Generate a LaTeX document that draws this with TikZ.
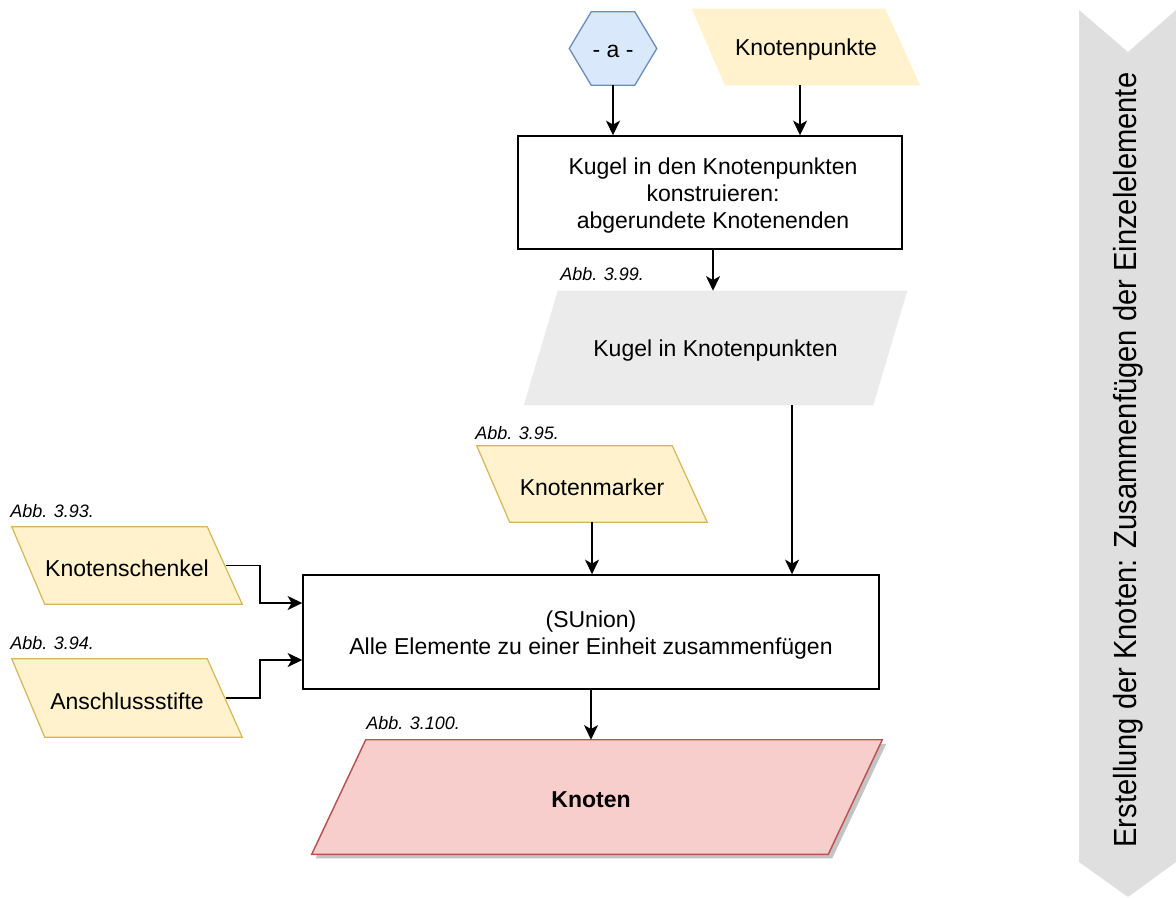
\documentclass[tikz,border=0pt]{standalone}
\usepackage{fontspec}
\setmainfont{Liberation Sans}
\newfontfamily\chevfont[FakeStretch=0.91]{Liberation Sans}
\usetikzlibrary{calc,arrows.meta}

\definecolor{hexfill}{HTML}{DAE8FC}
\definecolor{hexdraw}{HTML}{6C8EBF}
\definecolor{yelfill}{HTML}{FFF2CC}
\definecolor{yeldraw}{HTML}{D6B656}
\definecolor{grayfill}{HTML}{EBEBEB}
\definecolor{redfill}{HTML}{F8CECC}
\definecolor{reddraw}{HTML}{B85450}
\definecolor{chevfill}{HTML}{DFDFDF}
\definecolor{shadowgray}{HTML}{C4C4C4}

\pgfdeclarelayer{background}
\pgfsetlayers{background,main}

\tikzset{
  shapebox/.style={inner sep=0pt},
  txt/.style={inner sep=0pt, align=center, font=\fontsize{17.25}{20.5}\selectfont},
  abb/.style={inner sep=0pt, anchor=west, font=\fontsize{13.5}{16}\selectfont\itshape},
  procbox/.style={shapebox, draw=black, line width=1.1pt, fill=white},
  arr/.style={line width=1.1pt, -{Stealth[length=11pt,width=10.5pt,inset=3pt]}},
  yelshape/.style={fill=yelfill, draw=yeldraw, line width=0.9pt},
}

\begin{document}
\begin{tikzpicture}[x=0.75pt,y=-0.75pt]
\useasboundingbox (0,0) rectangle (1176,897);

% outlines of the elements
\node[shapebox, minimum width=65.25pt, minimum height=54.75pt] (hex) at (613,48.5) {};
\node[shapebox, minimum width=171pt, minimum height=57pt] (kp) at (806,47) {};
\node[procbox, minimum width=288pt, minimum height=84.75pt] (b1) at (710,192.5) {};
\node[shapebox, minimum width=287.25pt, minimum height=85.5pt] (kug) at (715.5,348) {};
\node[shapebox, minimum width=172.5pt, minimum height=57pt] (km) at (592,484) {};
\node[shapebox, minimum width=172.5pt, minimum height=57.75pt] (ks) at (127,565.5) {};
\node[shapebox, minimum width=172.5pt, minimum height=58.5pt] (as) at (127,698) {};
\node[procbox, minimum width=432pt, minimum height=85.5pt] (b2) at (591,632) {};
\node[shapebox, minimum width=427.5pt, minimum height=85.5pt] (kn) at (597,797) {};

% texts of the elements
\node[txt] (hex-t) at ($(hex)+(0,3)$) {- a -};
\node[txt] (kp-t) at ($(kp)+(0,3)$) {Knotenpunkte};
\node[txt] (b1-t) at ($(b1)+(3,3)$)
  {Kugel in den Knotenpunkten\\konstruieren:\\ abgerundete Knotenenden};
\node[txt] (kug-t) at ($(kug)+(0,3)$) {Kugel in Knotenpunkten};
\node[txt] (km-t) at ($(km)+(0,3)$) {Knotenmarker};
\node[txt] (ks-t) at ($(ks)+(0,3)$) {Knotenschenkel};
\node[txt] (as-t) at ($(as)+(0,3)$) {Anschlussstifte};
\node[txt] (b2-t) at ($(b2)+(0,3)$) {(SUnion)\\Alle Elemente zu einer Einheit zusammenfügen};
\node[txt, font=\fontsize{17.25}{20.5}\selectfont\bfseries] (kn-t) at ($(kn)+(-6,3)$) {Knoten};

% figure references
\node[abb] (abb99) at (560,274) {Abb. 3.99.};
\node[abb] (abb95) at (475,433) {Abb. 3.95.};
\node[abb] (abb93) at (10,511) {Abb. 3.93.};
\node[abb] (abb94) at (10,643) {Abb. 3.94.};
\node[abb] (abb100) at (366,723) {Abb. 3.100.};

% shapes behind the texts
\begin{pgfonlayer}{background}
  % hexagon
  \path[fill=hexfill, draw=hexdraw, line width=1pt]
    (hex.west) -- ($(hex.north west)+(22,0)$) -- ($(hex.north east)+(-22,0)$)
    -- (hex.east) -- ($(hex.south east)+(-22,0)$) -- ($(hex.south west)+(22,0)$) -- cycle;
  % data inputs
  \fill[yelfill] (kp.north west) -- ($(kp.north east)+(-35,0)$) -- (kp.south east)
    -- ($(kp.south west)+(33,0)$) -- cycle;
  \fill[grayfill] ($(kug.north west)+(34,0)$) -- (kug.north east) -- ($(kug.south east)+(-34,0)$)
    -- (kug.south west) -- cycle;
  \path[yelshape] (km.north west) -- ($(km.north east)+(-35,0)$) -- (km.south east)
    -- ($(km.south west)+(33,0)$) -- cycle;
  \path[yelshape] (ks.north west) -- ($(ks.north east)+(-35,0)$) -- (ks.south east)
    -- ($(ks.south west)+(33,0)$) -- cycle;
  \path[yelshape] (as.north west) -- ($(as.north east)+(-35,0)$) -- (as.south east)
    -- ($(as.south west)+(33,0)$) -- cycle;
  % result with shadow
  \fill[shadowgray] ($(kn.north west)+(58,4)$) -- ($(kn.north east)+(4,4)$) -- ($(kn.south east)+(-50,4)$)
    -- ($(kn.south west)+(4,4)$) -- cycle;
  \path[fill=redfill, draw=reddraw, line width=1.1pt]
    ($(kn.north west)+(54,0)$) -- (kn.north east) -- ($(kn.south east)+(-54,0)$)
    -- (kn.south west) -- cycle;
  % phase chevron
  \fill[chevfill] (1079,10) -- (1128,52) -- (1176,10) -- (1176,862) -- (1128,897) -- (1079,862) -- cycle;
\end{pgfonlayer}

\node[rotate=90, inner sep=0pt, font=\chevfont\fontsize{24}{28}\selectfont] (phase) at (1128,460)
  {Erstellung der Knoten: Zusammenfügen der Einzelelemente};

% connectors
\coordinate (kpout) at ($(kp.south)+(-6,0)$);
\coordinate (kugout) at ($(kug.south)+(76.5,0)$);
\coordinate (ksout) at ($(ks.east)+(-16.5,0)$);
\coordinate (asout) at ($(as.east)+(-16.5,0)$);
\coordinate (b2in1) at ($(b2.west)+(0,-29)$);
\coordinate (b2in2) at ($(b2.west)+(0,28)$);
\coordinate (b1out) at ($(b1.south)+(3,0)$);

\draw[arr] (hex.south) -- (hex.south |- b1.north);
\draw[arr] (kpout) -- (kpout |- b1.north);
\draw[arr] (b1out) -- (b1out |- kug.north);
\draw[arr] (kugout) -- (kugout |- b2.north);
\draw[arr] (km.south) -- (km.south |- b2.north);
\draw[arr] (ksout) -- ++(34,0) |- (b2in1);
\draw[arr] (asout) -- ++(34,0) |- (b2in2);
\draw[arr] (b2.south) -- (b2.south |- kn.north);
\end{tikzpicture}
\end{document}
